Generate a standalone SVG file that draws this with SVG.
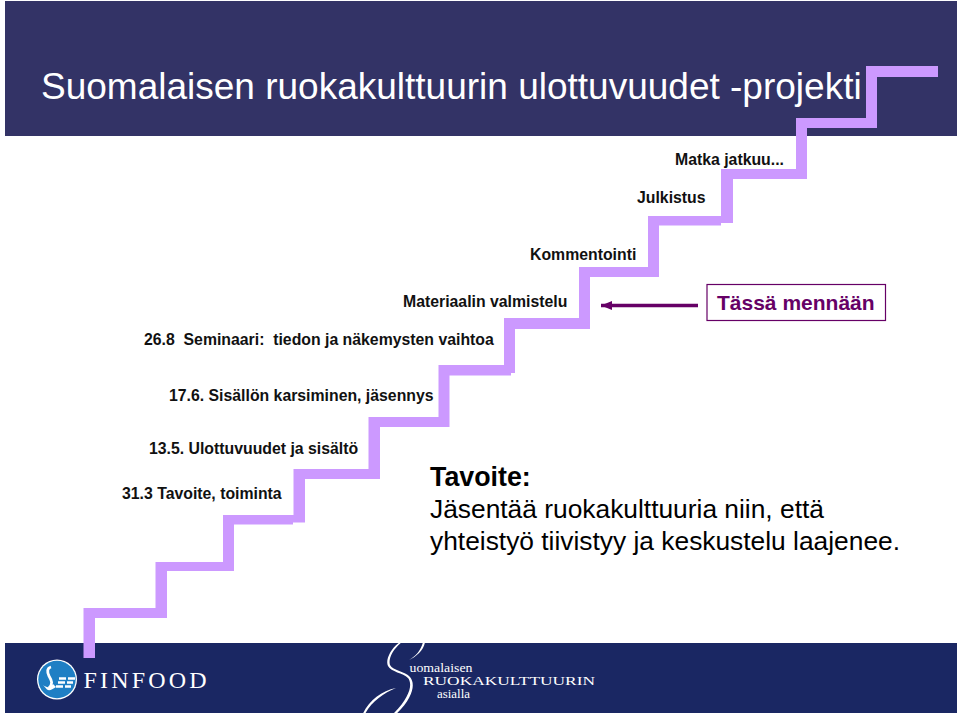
<svg xmlns="http://www.w3.org/2000/svg" width="960" height="716" viewBox="0 0 960 716">
<style>
text{font-family:"Liberation Sans",Arial,sans-serif}
.lab{font-size:15.82px;font-weight:700;fill:#111}
.st{fill:#cc99ff}
.goal{font-size:26.35px;fill:#000}
.ft{font-family:"Liberation Serif","Times New Roman",serif;fill:#fff}
</style>
<defs><marker id="ah" markerUnits="userSpaceOnUse" markerWidth="13" markerHeight="12" refX="11" refY="6" orient="auto"><path d="M0 1.500L11 6L0 10.500Z" fill="#660066"/></marker>
<clipPath id="fc"><rect x="5" y="643" width="952" height="70"/></clipPath></defs>
<rect width="960" height="716" fill="#fff"/>
<g id="header"><rect x="5" y="1" width="952" height="135" fill="#333366"/>
<text x="41" y="99" font-size="37" fill="#fff">Suomalaisen ruokakulttuurin ulottuvuudet -projekti</text></g>
<g id="footer"><rect x="5" y="643" width="952" height="70" fill="#1a2763"/>
<g id="finfood-logo"><circle cx="57" cy="679.500" r="20" fill="#fff"/><circle cx="57" cy="679.500" r="18.700" fill="#1f7fc4"/>
<path d="M51 667C47 668 47 672 49 676C52 681 53 684 49 688" fill="none" stroke="#fff" stroke-width="2.800"/>
<path d="M43 685C47 688 50 688 53 684L56 687C52 690 49 691 47 689.500Z" fill="#fff"/>
<path d="M50 667L46.500 670L50 669Z" fill="#fff"/>
<path d="M59 678.500H66M68 678.500H75M58 682.500H65M67 682.500H73M56 686.500H63M65 686.500H71" stroke="#fff" stroke-width="2.300" fill="none"/>
<text class="ft" x="83.500" y="688" font-size="24" textLength="123">FINFOOD</text></g>
<g id="sr-logo" clip-path="url(#fc)" fill="#fff">
<path d="M400 642C391 648 385 660 388 666C391 672 403 673 408 678C413 684 410 698 391 716H394C413 699 416 684 410 677C405 671 393 671 390 665C388 659 393 649 402 642Z"/>
<path d="M423 642C421 650 416 656 409 660C416 657 424 650 425 642Z"/>
<path d="M396 688C381 691 367 702 362 716H364C370 703 383 693 396 688Z"/></g>
<text class="ft" x="409.500" y="671.500" font-size="12" textLength="63" lengthAdjust="spacingAndGlyphs">uomalaisen</text>
<text class="ft" x="423" y="685" font-size="13" textLength="172" lengthAdjust="spacingAndGlyphs">RUOKAKULTTUURIN</text>
<text class="ft" x="437" y="698" font-size="12" textLength="33" lengthAdjust="spacingAndGlyphs">asialla</text></g>
<g id="stairs" class="st">
<path d="M83.500 658V608H155.500V562H223V515H293.500V469H368.500V417H438.500V365H504V318H579V267H648V216H721V169H796V118H866V66H938V77H877V128H807V179H733V223H721V225.500H659V277H590V329H515V373H511V375.500H449.500V427H380V479H305V522.500H293V524.500H234V571H167V618H95V658Z"/>
</g>
<g id="connectors"><line x1="698" y1="305.500" x2="601" y2="305.500" stroke="#660066" stroke-width="3.500" marker-end="url(#ah)"/></g>
<g id="n1"><text class="lab" x="675" y="165">Matka jatkuu...</text></g>
<g id="n2"><text class="lab" x="637" y="203">Julkistus</text></g>
<g id="n3"><text class="lab" x="530" y="260">Kommentointi</text></g>
<g id="n4"><text class="lab" x="403" y="307">Materiaalin valmistelu</text></g>
<g id="n5"><text class="lab" x="144" y="345" xml:space="preserve">26.8  Seminaari:  tiedon ja näkemysten vaihtoa</text></g>
<g id="n6"><text class="lab" x="169" y="401">17.6. Sisällön karsiminen, jäsennys</text></g>
<g id="n7"><text class="lab" x="149" y="454">13.5. Ulottuvuudet ja sisältö</text></g>
<g id="n8"><text class="lab" x="122" y="499">31.3 Tavoite, toiminta</text></g>
<g id="here"><rect x="707" y="284.500" width="178.500" height="36" fill="#fff" stroke="#660066" stroke-width="1.200"/>
<text x="717" y="310" font-size="21" font-weight="700" fill="#660066">Tässä mennään</text></g>
<g id="goal"><text class="goal" x="430" y="486" font-weight="700" font-size="26.800" style="font-size:26.8px">Tavoite:</text>
<text class="goal" x="430" y="518">Jäsentää ruokakulttuuria niin, että</text>
<text class="goal" x="430" y="550">yhteistyö tiivistyy ja keskustelu laajenee.</text></g>
</svg>
